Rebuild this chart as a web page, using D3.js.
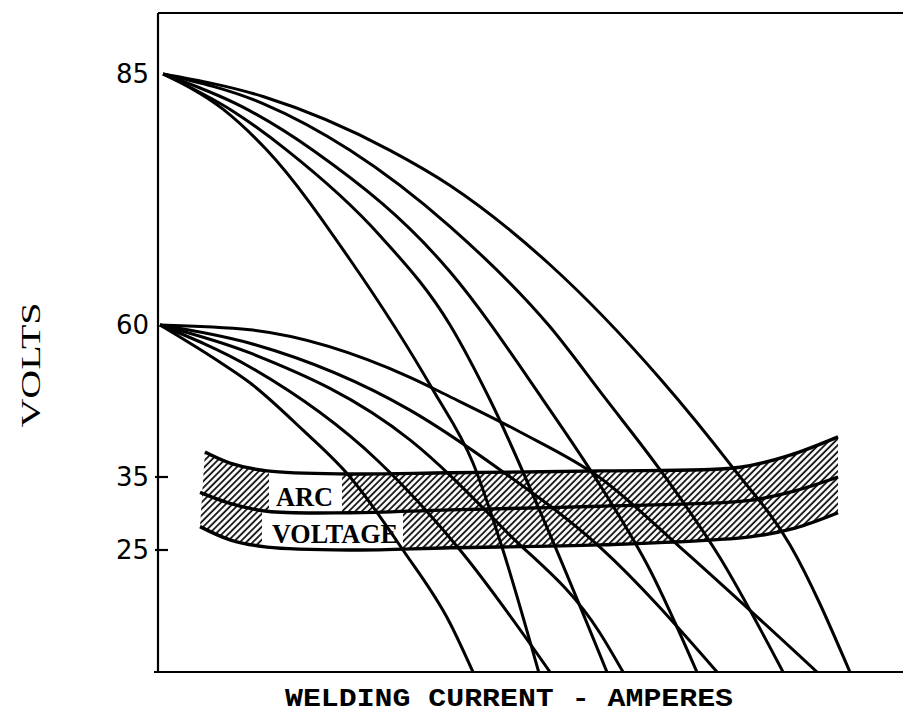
<!DOCTYPE html>
<html><head><meta charset="utf-8">
<script src="https://cdn.jsdelivr.net/npm/d3@7"></script>
<style>html,body{margin:0;padding:0;background:#fff;}svg{display:block;}</style>
</head><body>
<svg id="chart" width="903" height="715"></svg>
<script>
// ---- data (x: welding current in arbitrary amperes, y: volts) ----
const yTickValues = [85, 60, 35, 25];
const yTickMarks = [35, 25];
const yLabel = "VOLTS";
const xLabel = "WELDING CURRENT - AMPERES";
const bandLabels = ["ARC", "VOLTAGE"];

// open-circuit 85 V family
const upper1 = [[3.4,85],[43.6,81.5],[73.2,77.4],[128.9,66.5],[184.6,49.3],[211.4,37.3],[231.5,25],[255.5,0]];
const upper2 = [[3.4,85],[50.3,81.3],[86.6,77.4],[149.0,68.9],[196,60],[222.8,47.7],[263.1,27.1],[301.3,0]];
const upper3 = [[3.4,85],[57.0,81.7],[104,77.4],[196,65.3],[258.4,47.7],[296.6,33.9],[330.2,20.9],[361.7,0]];
const upper4 = [[3.4,85],[70.5,82.05],[128.9,77.4],[196,69.8],[263.1,59.7],[300,48.0],[336.9,36.2],[377.2,23.4],[419.5,0]];
const upper5 = [[3.4,85],[70.5,82.76],[155.7,77.4],[196,73.9],[263.1,66.0],[337.6,51.0],[385.9,36.5],[424.2,25.7],[464.4,0]];
// open-circuit 60 V family
const lower1 = [[1.3,60],[39.6,54.2],[61.7,50.5],[97.3,42.7],[128.9,35],[164.4,25],[196,10],[211.4,0]];
const lower2 = [[1.3,60],[61.7,53.1],[147,37.8],[202.7,25],[263.1,0]];
const lower3 = [[1.3,60],[61.7,55.4],[169.1,41.1],[232.9,27.7],[296.6,8.0],[312.1,0]];
const lower4 = [[1.3,60],[61.7,57.0],[169.1,46.0],[229.5,36.2],[296.6,25.4],[375.2,0]];
const lower5 = [[1.3,60],[61.7,59.2],[169.1,51.4],[196,48.2],[243,42.4],[296.6,34.9],[350.3,25.4],[442.3,0]];
// arc voltage band
const bandTop = [[31.5,39.1],[48.3,37.3],[73.2,36.0],[128.9,35.5],[196,35.7],[296.6,36.0],[390.6,36.6],[424.2,38.6],[456.4,41.6]];
const bandMid = [[28.2,32.9],[48.3,31.4],[73.2,30.3],[128.9,30.1],[196,30.5],[296.6,31.0],[397.3,31.8],[427.5,33.1],[456.4,35.0]];
const bandBot = [[28.2,28.2],[48.3,26.4],[73.2,25.4],[128.9,25.0],[196,25.3],[296.6,25.7],[397.3,26.8],[427.5,28.0],[456.4,30.1]];
// label windows in amperes
const arcWindow = [74.5, 123.5];
const voltageWindow = [69.8, 164.4];

const curves = [upper1, upper2, upper3, upper4, upper5, lower1, lower2, lower3, lower4, lower5];

// ---- scales ----
const x = d3.scaleLinear().domain([0, 500]).range([158, 903]);
const y = d3.scaleLinear().domain([0, 25, 35, 60, 85, 91]).range([672, 550, 477, 325, 74, 13]);

const svg = d3.select("#chart");
const defs = svg.append("defs");

const pat = defs.append("pattern").attr("id", "hatch").attr("patternUnits", "userSpaceOnUse")
  .attr("width", 4.6).attr("height", 4.6).attr("patternTransform", "rotate(45)");
pat.append("rect").attr("width", 4.6).attr("height", 4.6).attr("fill", "#fff");
pat.append("line").attr("x1", 1).attr("y1", 0).attr("x2", 1).attr("y2", 4.6)
  .attr("stroke", "#111").attr("stroke-width", 1.8);

defs.append("clipPath").attr("id", "plotClip").append("rect")
  .attr("x", x(0)).attr("y", y(91)).attr("width", x(500) - x(0)).attr("height", y(0) - y(91));

const bandLine = d3.line().x(d => x(d[0])).y(d => y(d[1])).curve(d3.curveCatmullRom);
const curveLine = d3.line().x(d => x(d[0])).y(d => y(d[1])).curve(d3.curveMonotoneX);

// hatched band
const topPath = bandLine(bandTop);
const botPath = bandLine(bandBot.slice().reverse());
svg.append("path").attr("d", topPath + "L" + botPath.slice(1) + "Z").attr("fill", "url(#hatch)");

// white windows behind labels
function windowArea(upper, lower, win, id) {
  defs.append("clipPath").attr("id", id).append("rect")
    .attr("x", x(win[0])).attr("y", 0).attr("width", x(win[1]) - x(win[0])).attr("height", 715);
  svg.append("path")
    .attr("d", bandLine(upper) + "L" + bandLine(lower.slice().reverse()).slice(1) + "Z")
    .attr("fill", "#fff").attr("clip-path", `url(#${id})`);
}
windowArea(bandTop, bandMid, arcWindow, "arcWin");
windowArea(bandMid, bandBot, voltageWindow, "voltWin");

[bandTop, bandMid, bandBot].forEach(b => {
  svg.append("path").attr("d", bandLine(b)).attr("fill", "none")
    .attr("stroke", "#000").attr("stroke-width", 3.4).attr("stroke-linecap", "butt");
});

svg.append("text").text(bandLabels[0])
  .attr("x", x(arcWindow[0]) + 7).attr("y", y(30.3) - 5)
  .attr("font-family", "Liberation Serif, serif").attr("font-size", 27).attr("font-weight", "bold")
  .attr("textLength", 57).attr("lengthAdjust", "spacingAndGlyphs").attr("fill", "#000");
svg.append("text").text(bandLabels[1])
  .attr("x", x(voltageWindow[0]) + 10).attr("y", y(25.1) - 6)
  .attr("font-family", "Liberation Serif, serif").attr("font-size", 27).attr("font-weight", "bold")
  .attr("textLength", 126).attr("lengthAdjust", "spacingAndGlyphs").attr("fill", "#000");

// characteristic curves
svg.append("g").attr("clip-path", "url(#plotClip)")
  .selectAll("path").data(curves).join("path")
  .attr("d", curveLine).attr("fill", "none").attr("stroke", "#000")
  .attr("stroke-width", 3).attr("stroke-linejoin", "round");

// frame
const frame = svg.append("g").attr("stroke", "#000").attr("stroke-width", 2.2).attr("fill", "none");
frame.append("line").attr("x1", x(0)).attr("x2", x(0)).attr("y1", y(91)).attr("y2", y(0));
frame.append("line").attr("x1", x(0)).attr("x2", x(500)).attr("y1", y(91)).attr("y2", y(91));
frame.append("line").attr("x1", x(0) - 4).attr("x2", x(500)).attr("y1", y(0)).attr("y2", y(0));

// y axis labels
const yAxis = d3.axisLeft(y).tickValues(yTickValues).tickSize(0).tickPadding(9).tickFormat(d3.format("d"));
const ya = svg.append("g").attr("transform", `translate(${x(0)},0)`).call(yAxis);
ya.select(".domain").remove();
ya.selectAll("text").attr("font-family", "DejaVu Sans, sans-serif").attr("font-size", 26).attr("fill", "#000");

// tick marks at 35 and 25
svg.append("g").selectAll("line").data(yTickMarks).join("line")
  .attr("x1", x(0) - 3).attr("x2", x(0) + 10).attr("y1", d => y(d)).attr("y2", d => y(d))
  .attr("stroke", "#000").attr("stroke-width", 2.2);

// axis titles
svg.append("text").text(xLabel)
  .attr("x", 509).attr("y", 706).attr("text-anchor", "middle")
  .attr("font-family", "Liberation Mono, monospace").attr("font-weight", "bold").attr("font-size", 26)
  .attr("textLength", 448).attr("lengthAdjust", "spacingAndGlyphs").attr("fill", "#000");

svg.append("text").text(yLabel)
  .attr("transform", "translate(40,365) rotate(-90)").attr("text-anchor", "middle")
  .attr("font-family", "Liberation Serif, serif").attr("font-size", 27)
  .attr("textLength", 125).attr("lengthAdjust", "spacingAndGlyphs").attr("fill", "#000");
</script>
</body></html>
